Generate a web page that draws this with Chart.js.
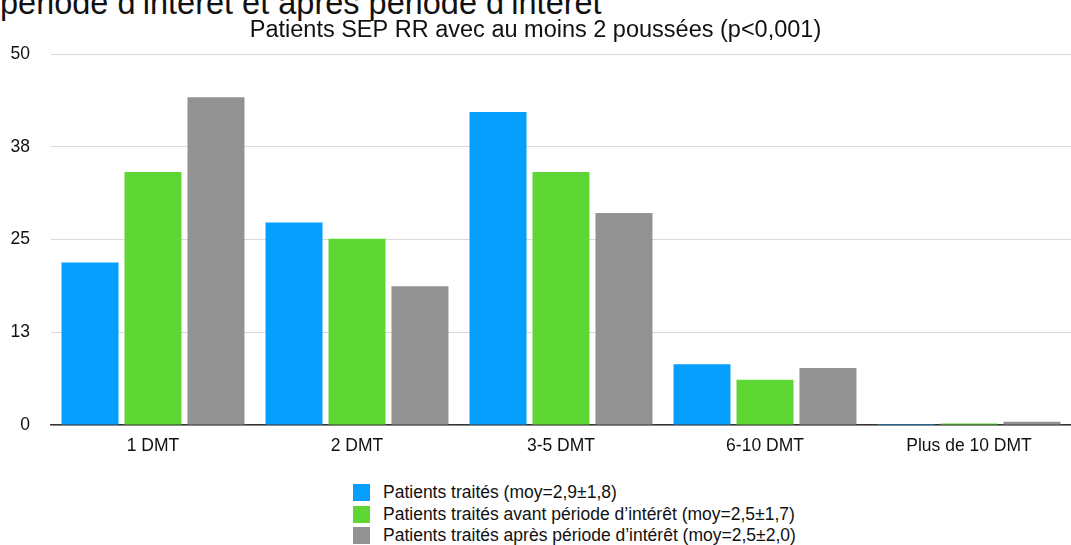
<!DOCTYPE html>
<html>
<head>
<meta charset="utf-8">
<script src="https://cdn.jsdelivr.net/npm/chart.js@4"></script>
<style>
  body { margin: 0; background: #fff; font-family: "Liberation Sans", Arial, sans-serif; }
  #wrap { position: relative; width: 1071px; height: 545px; overflow: hidden; }
  #heading { position: absolute; left: 0; top: -15px; font-size: 32.5px; color: #111; white-space: nowrap; }
  #chartBox { position: absolute; left: 0; top: 0; width: 1071px; height: 474px; }
  #legend { position: absolute; left: 353px; top: 482px; font-size: 17.5px; color: #111; }
  .item { display: flex; align-items: center; height: 21.5px; }
  .box { width: 17px; height: 17px; margin-right: 13px; }
</style>
</head>
<body>
<div id="wrap">
  <div id="heading">période d’intérêt et après période d’intérêt</div>
  <div id="chartBox"><canvas id="myChart"></canvas></div>
  <div id="legend"></div>
</div>
<script>
// Data
const categories = ['1 DMT', '2 DMT', '3-5 DMT', '6-10 DMT', 'Plus de 10 DMT'];
const seriesNames = [
    'Patients traités (moy=2,9±1,8)',
    'Patients traités avant période d’intérêt (moy=2,5±1,7)',
    'Patients traités après période d’intérêt (moy=2,5±2,0)'
];
const traites = [21.9, 27.3, 42.2, 8.2, 0.15];
const avant = [34.1, 25.1, 34.1, 6.1, 0.2];
const apres = [44.2, 18.7, 28.6, 7.7, 0.45];
const colors = ['#069ffd', '#5ed734', '#929292'];

const chartTitle = 'Patients SEP RR avec au moins 2 poussées (p<0,001)';

const data = {
    labels: categories,
    datasets: [traites, avant, apres].map((vals, i) => ({
        label: seriesNames[i],
        data: vals,
        backgroundColor: colors[i],
        categoryPercentage: 0.926,
        barPercentage: 0.905
    }))
};

const config = {
    type: 'bar',
    data: data,
    options: {
        responsive: true,
        maintainAspectRatio: false,
        animation: false,
        layout: { padding: { top: 16, bottom: 6, left: 0, right: 0 } },
        scales: {
            x: {
                grid: { display: false, drawTicks: false },
                border: { display: true, color: '#333', width: 1.5 },
                ticks: { color: '#111', font: { size: 17.5 }, padding: 11 }
            },
            y: {
                min: 0,
                max: 50,
                afterFit: s => { s.width = 51; },
                grid: { color: '#d9d9d9', drawTicks: false },
                border: { display: false },
                ticks: {
                    stepSize: 12.5,
                    color: '#111',
                    font: { size: 17.5 },
                    padding: 21,
                    callback: v => Math.round(v)
                }
            }
        },
        plugins: {
            legend: { display: false },
            tooltip: { enabled: false },
            title: {
                display: true,
                text: chartTitle,
                color: '#111',
                font: { size: 23.5, weight: 'normal' },
                padding: { top: 0, bottom: 10 }
            }
        }
    }
};

Chart.defaults.font.family = '"Liberation Sans", Arial, sans-serif';
let myChart = new Chart(document.getElementById('myChart'), config);

// legend
const leg = document.getElementById('legend');
seriesNames.forEach((name, i) => {
    const row = document.createElement('div');
    row.className = 'item';
    row.innerHTML = '<div class="box" style="background:' + colors[i] + '"></div><span>' + name + '</span>';
    leg.appendChild(row);
});
</script>
</body>
</html>
